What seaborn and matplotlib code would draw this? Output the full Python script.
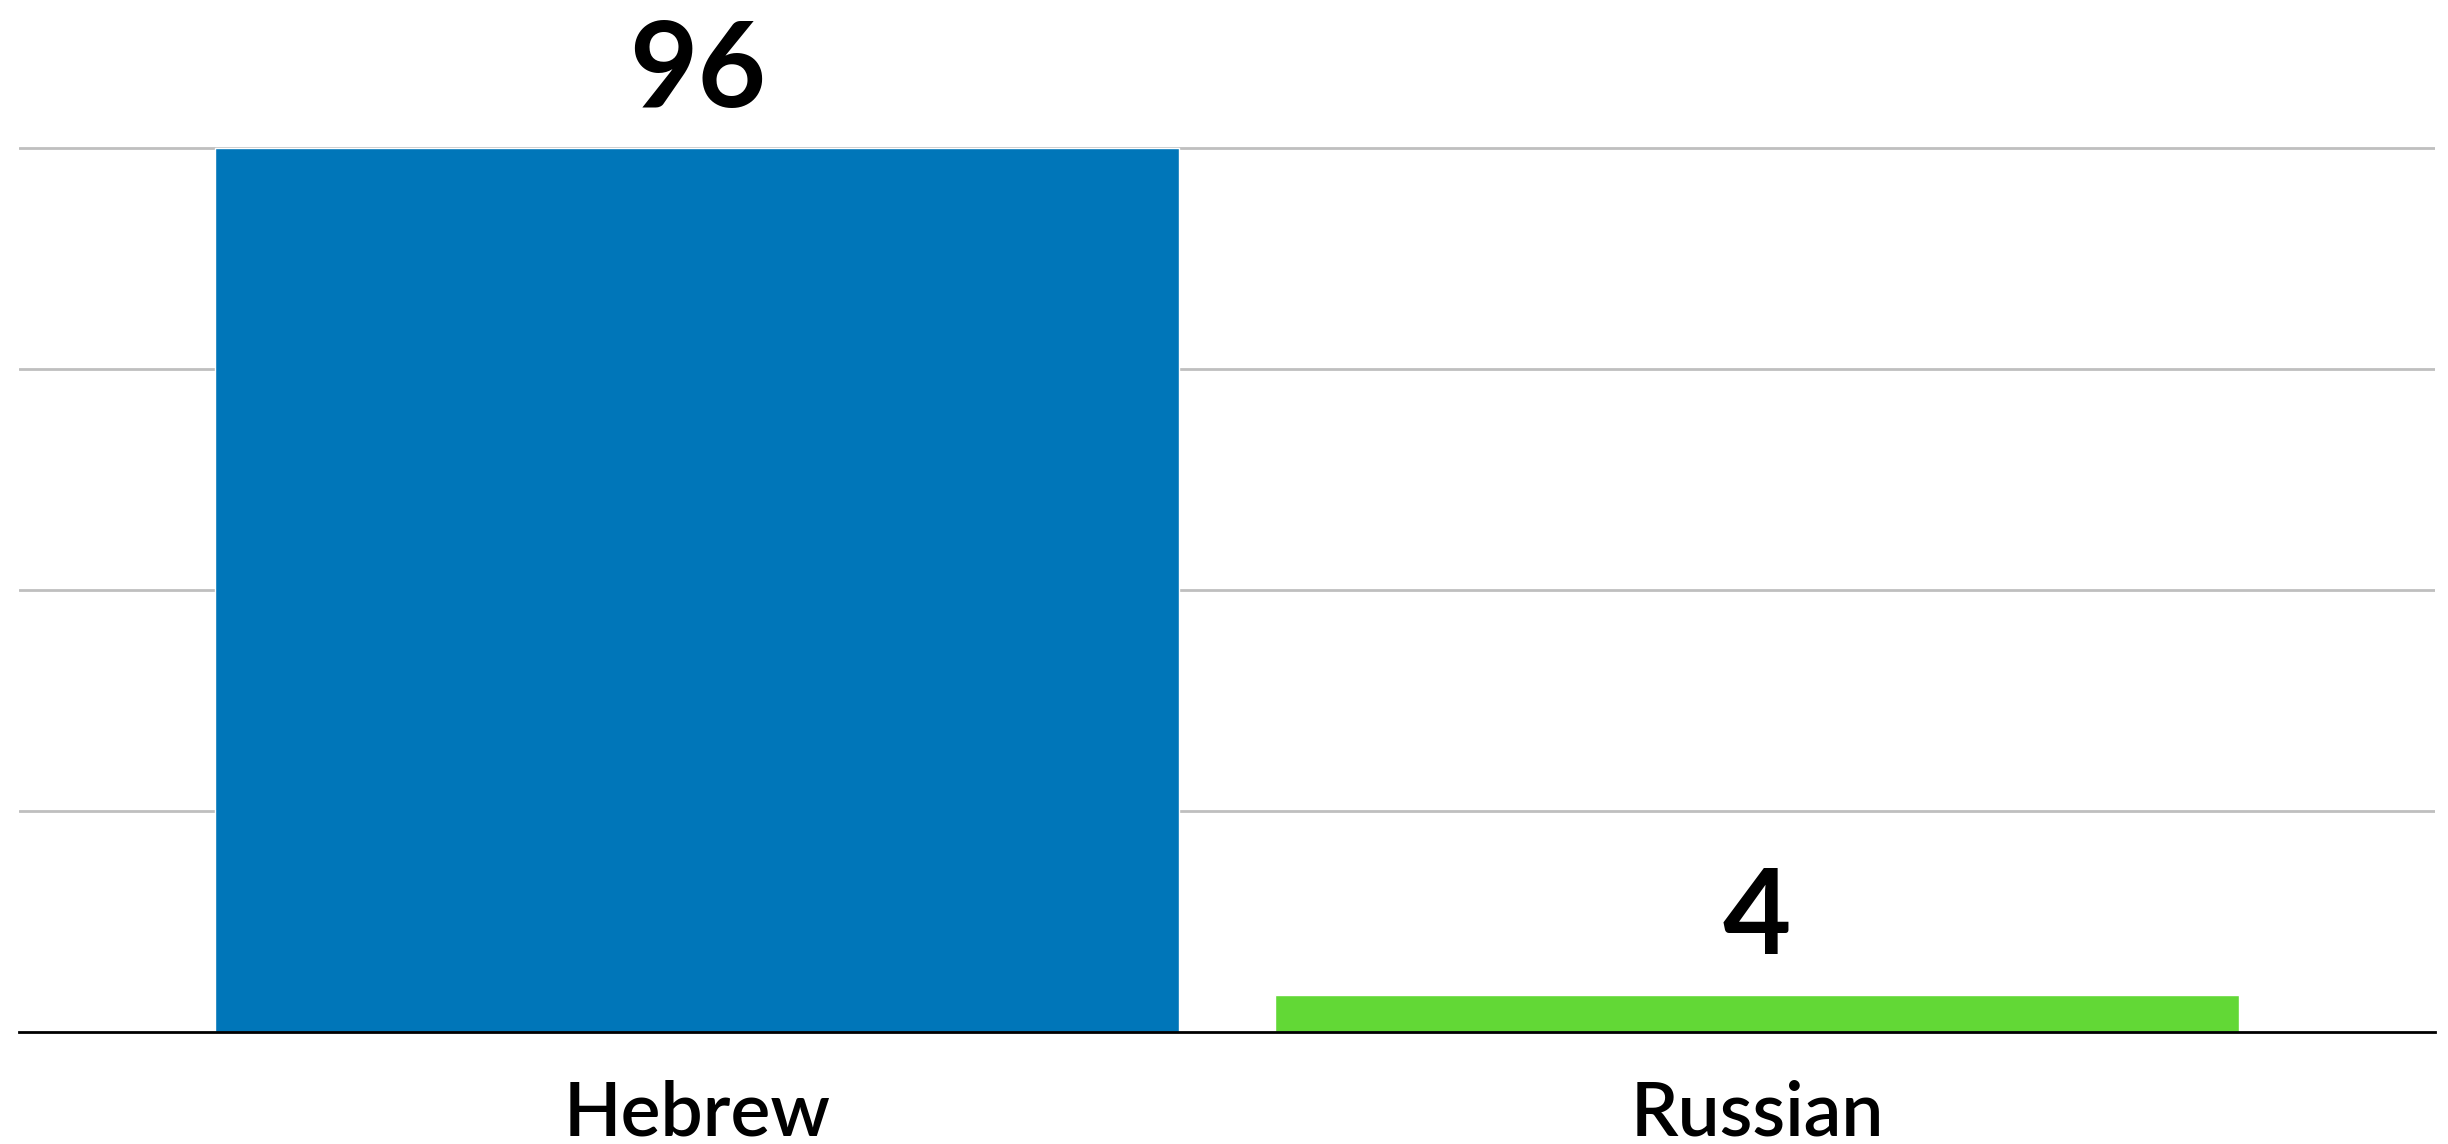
import matplotlib
matplotlib.use("Agg")
import matplotlib.pyplot as plt
import seaborn as sns
import pandas as pd

# data
languages = ["Hebrew", "Russian"]
values = [96, 4]
colors = ["#0076B9", "#62D836"]
grid_ticks = [24, 48, 72, 96]

df = pd.DataFrame({"language": languages, "value": values})

sns.set_style("white")
plt.rcParams["font.family"] = ["Lato", "DejaVu Sans"]

fig = plt.figure(figsize=(24.48, 11.44), dpi=100)
ax = fig.add_axes([0.0078, 0.098, 0.9869, 0.775])

sns.barplot(data=df, x="language", y="value", hue="language",
            palette=colors, width=0.91, legend=False, ax=ax,
            saturation=1, zorder=3)

ax.set_xlim(-0.64, 1.64)
ax.set_ylim(0, 96.3)
ax.set_yticks(grid_ticks)
ax.yaxis.grid(True, color="#bfbfbf", linewidth=2, zorder=0)
ax.set_axisbelow(True)
ax.tick_params(axis="y", left=False, labelleft=False)
ax.tick_params(axis="x", length=0, pad=34, labelsize=54, labelcolor="black")
for lbl in ax.get_xticklabels():
    lbl.set_fontweight("semibold")

for s in ["top", "right", "left"]:
    ax.spines[s].set_visible(False)
ax.spines["bottom"].set_color("black")
ax.spines["bottom"].set_linewidth(2)
ax.spines["bottom"].set_zorder(4)

# value labels above bars
for c in ax.containers:
    ax.bar_label(c, labels=[f"{v:g}" for v in c.datavalues], padding=15,
                 fontsize=85, fontweight="bold", color="black")

ax.set_xlabel("")
ax.set_ylabel("")

fig.savefig("out.png", dpi=100, facecolor="white")
